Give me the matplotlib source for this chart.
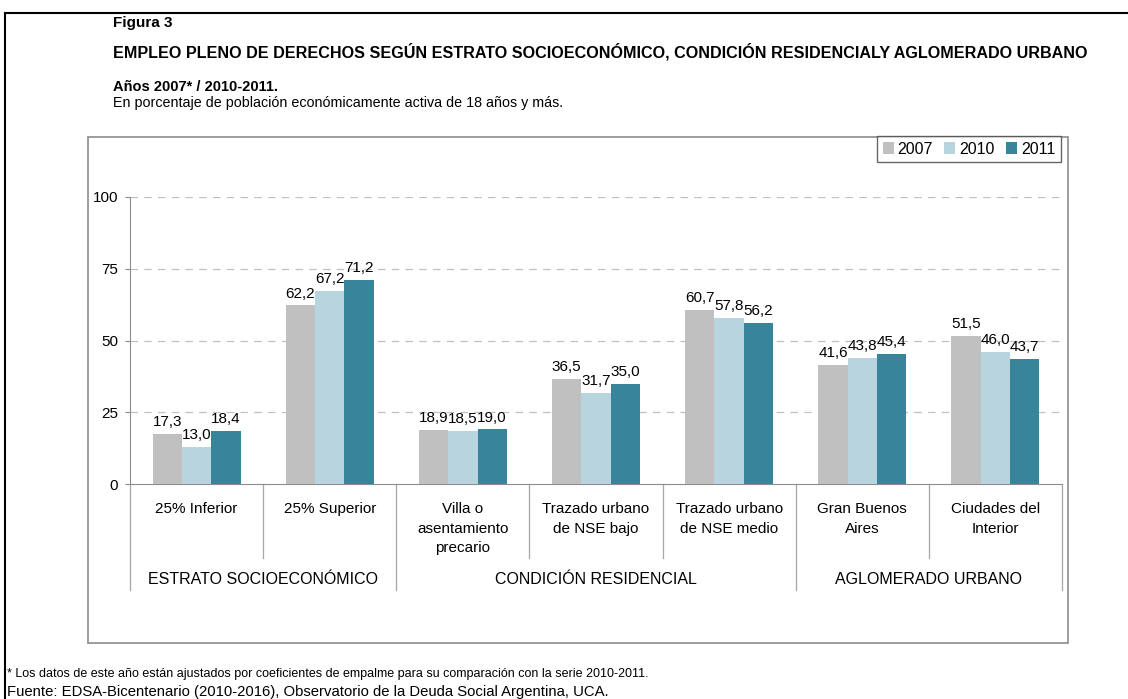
import matplotlib
matplotlib.use("Agg")
import matplotlib.pyplot as plt
import matplotlib.transforms as mtransforms
from matplotlib.patches import Rectangle
from matplotlib.lines import Line2D
import numpy as np

plt.rcParams['font.family'] = ['Liberation Sans', 'DejaVu Sans']

# datos
categorias = ["25% Inferior", "25% Superior", "Villa o\nasentamiento\nprecario",
              "Trazado urbano\nde NSE bajo", "Trazado urbano\nde NSE medio",
              "Gran Buenos\nAires", "Ciudades del\nInterior"]
grupos = ["ESTRATO SOCIOECONÓMICO", "CONDICIÓN RESIDENCIAL", "AGLOMERADO URBANO"]
grupo_tamanos = [2, 3, 2]
anios = ["2007", "2010", "2011"]
v2007 = [17.3, 62.2, 18.9, 36.5, 60.7, 41.6, 51.5]
v2010 = [13.0, 67.2, 18.5, 31.7, 57.8, 43.8, 46.0]
v2011 = [18.4, 71.2, 19.0, 35.0, 56.2, 45.4, 43.7]
yticks = [0, 25, 50, 75, 100]

colores = ["#C0C0C0", "#B7D4DF", "#38849A"]

W, H = 1128, 699
fig = plt.figure(figsize=(W / 100, H / 100), dpi=100)

def fx(px):
    return px / W

def fy(py):
    return 1 - py / H

# marco exterior negro (izquierda y arriba)
fig.add_artist(Line2D([fx(5), fx(5)], [fy(12.5), 0], color="black", lw=1.5))
fig.add_artist(Line2D([fx(5), 1], [fy(12.5), fy(12.5)], color="black", lw=1.5))

# caja del grafico
fig.add_artist(Rectangle((fx(88), fy(643)), fx(1068) - fx(88), fy(137) - fy(643),
                         fill=False, edgecolor="#8C8C8C", lw=1.2))

# textos de cabecera
fig.text(fx(113), fy(27), "Figura 3", fontsize=11, fontweight="bold", va="baseline")
fig.text(fx(113), fy(57), "EMPLEO PLENO DE DERECHOS SEGÚN ESTRATO SOCIOECONÓMICO, CONDICIÓN RESIDENCIALY AGLOMERADO URBANO",
         fontsize=11.6, fontweight="bold", va="baseline")
fig.text(fx(113), fy(91), "Años 2007* / 2010-2011.", fontsize=10.5, fontweight="bold", va="baseline")
fig.text(fx(113), fy(107), "En porcentaje de población económicamente activa de 18 años y más.",
         fontsize=10.3, va="baseline")

fig.text(fx(7), fy(677), "* Los datos de este año están ajustados por coeficientes de empalme para su comparación con la serie 2010-2011.",
         fontsize=9, va="baseline")
fig.text(fx(7), fy(696), "Fuente: EDSA-Bicentenario (2010-2016), Observatorio de la Deuda Social Argentina, UCA.",
         fontsize=10.7, va="baseline")

ax = fig.add_axes([fx(130), fy(484), fx(1062) - fx(130), fy(197) - fy(484)])

x = np.arange(len(categorias))
ancho = 0.22
series = [v2007, v2010, v2011]
barras = []
for i, (vals, col) in enumerate(zip(series, colores)):
    b = ax.bar(x + (i - 1) * ancho, vals, ancho, color=col, label=anios[i], zorder=3)
    barras.append(b)
    for xi, v in zip(x + (i - 1) * ancho, vals):
        ax.annotate(f"{v:.1f}".replace(".", ","), (xi, v), xytext=(0, 3.5),
                    textcoords="offset points", ha="center", va="bottom",
                    fontsize=11, zorder=4)

ax.set_xlim(-0.5, len(categorias) - 0.5)
ax.set_ylim(0, 100)
ax.set_yticks(yticks)
ax.set_yticklabels([str(t) for t in yticks], fontsize=11)
ax.set_xticks([])
for t in yticks[1:]:
    ax.axhline(t, color="#C0C0C0", lw=0.9, ls=(0, (6, 5)), zorder=1)

for s in ["top", "right"]:
    ax.spines[s].set_visible(False)
ax.spines["left"].set_color("#8C8C8C")
ax.spines["bottom"].set_color("#8C8C8C")
ax.tick_params(axis="y", length=3.6, color="#8C8C8C", pad=5)

# etiquetas de categorias y grupos debajo del eje
tr = mtransforms.blended_transform_factory(ax.transData, ax.transAxes)
for xi, cat in zip(x, categorias):
    ax.text(xi, -0.062, cat, transform=tr, ha="center", va="top", fontsize=11,
            linespacing=1.52)

bordes_grupo = np.cumsum([0] + grupo_tamanos) - 0.5
for k in range(len(categorias) + 1):
    xb = k - 0.5
    bajo = -0.369 if xb in bordes_grupo else -0.258
    ax.add_line(Line2D([xb, xb], [0, bajo], transform=tr, color="#A6A6A6",
                       lw=0.9, clip_on=False))
for g, (ini, fin) in zip(grupos, zip(bordes_grupo[:-1], bordes_grupo[1:])):
    ax.text((ini + fin) / 2, -0.334, g, transform=tr, ha="center", va="center",
            fontsize=11.5)

leg = fig.legend(handles=barras, labels=anios, loc="upper right",
                 bbox_to_anchor=(fx(1061), fy(136)), ncol=3, fontsize=11.5,
                 frameon=True, fancybox=False, handlelength=0.7, handleheight=0.7,
                 handletextpad=0.25, columnspacing=0.7, borderpad=0.35,
                 borderaxespad=0)
leg.get_frame().set_edgecolor("#404040")
leg.get_frame().set_linewidth(1.0)

fig.savefig("out.png", dpi=100)
